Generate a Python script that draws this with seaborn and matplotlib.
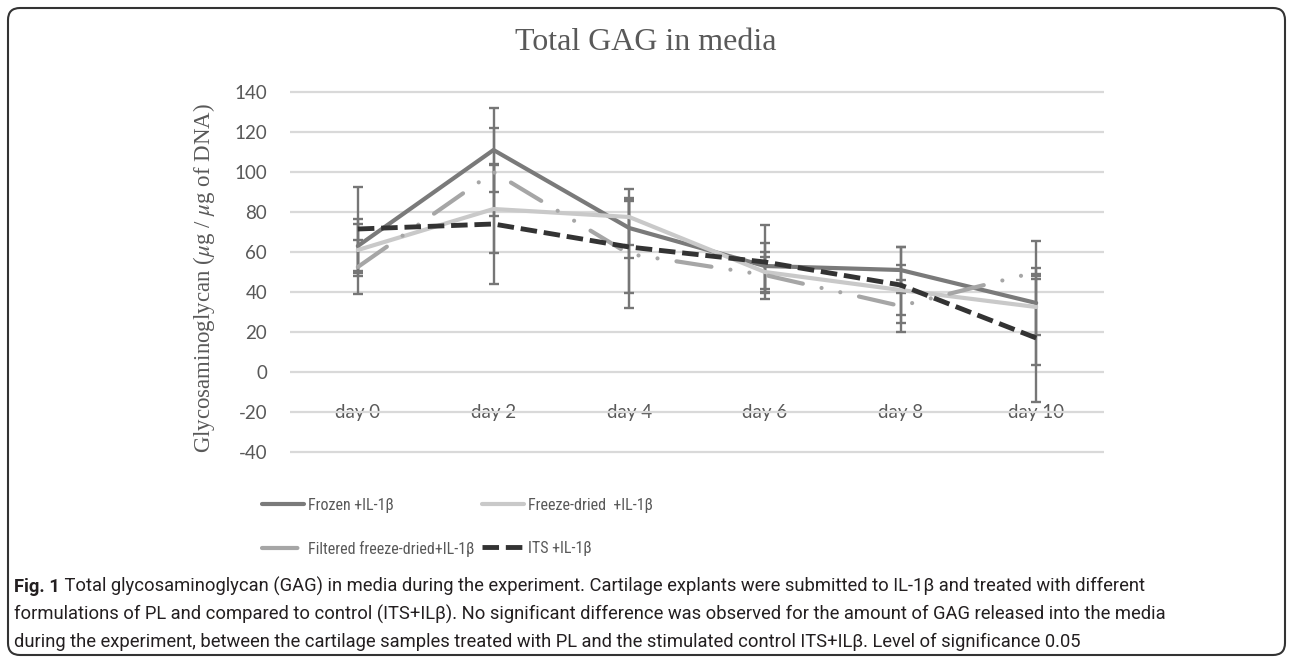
import matplotlib.pyplot as plt
import pandas as pd
import seaborn as sns
from matplotlib.patches import FancyBboxPatch

# values
days = [0, 2, 4, 6, 8, 10]
day_labels = ["day 0", "day 2", "day 4", "day 6", "day 8", "day 10"]
y_ticks = [-40, -20, 0, 20, 40, 60, 80, 100, 120, 140]
groups = ["Frozen +IL-1β", "Freeze-dried  +IL-1β", "Filtered freeze-dried+IL-1β", "ITS +IL-1β"]

frozen = [63, 111, 72, 53, 51, 34.5]
frozen_err = [13.5, 21, 15, 11.5, 11.5, 31]
freeze_dried = [61, 81.5, 77.5, 50, 41, 32.5]
freeze_dried_err = [13, 22, 14, 10, 12.5, 14]
filtered = [52.5, 100, 59, 48.5, 33, 50]
filtered_err = [13.5, 22, 27, 9, 13, 2]
its = [71.5, 74, 62.5, 55, 43.5, 17]
its_err = [21, 30, 23, 18.5, 19, 32]

values = [frozen, freeze_dried, filtered, its]
errors = [frozen_err, freeze_dried_err, filtered_err, its_err]

colors = dict(zip(groups, ["#7a7a7a", "#c9c9c9", "#a6a6a6", "#333333"]))
dash_map = dict(zip(groups, ["", "", (8.5, 4.6, 0.01, 4.6, 0.01, 4.6), (3.4, 1.4)]))
widths = [3.0, 3.0, 3.0, 3.5]

df = pd.DataFrame({
    "day": days * 4,
    "gag": frozen + freeze_dried + filtered + its,
    "group": [g for g in groups for _ in days],
})

sns.set_theme(style="white")
plt.rcParams["font.family"] = ["Lato", "DejaVu Sans"]
plt.rcParams["mathtext.fontset"] = "stix"

W, H = 1292, 658
fig = plt.figure(figsize=(W / 100, H / 100), dpi=100)
ax = fig.add_axes([290 / W, 1 - 454 / H, 814 / W, 364 / H])

sns.lineplot(data=df, x="day", y="gag", hue="group", style="group",
             hue_order=groups, style_order=groups, palette=colors,
             dashes=dash_map, sort=False, legend=False, ax=ax, zorder=3)

lines = list(ax.lines[:4])
for ln, w in zip(lines, widths):
    ln.set_linewidth(w)
    ln.set_dash_capstyle("round")
lines[3].set_dash_capstyle("butt")

for vals, errs in zip(values, errors):
    ax.errorbar(days, vals, yerr=errs, fmt="none", ecolor="#767676",
                elinewidth=1.7, capsize=3.6, capthick=1.7, zorder=2)

ax.set_xlim(-1, 11)
ax.set_ylim(-41, 141)
ax.set_yticks(y_ticks, [str(v) for v in y_ticks])
ax.set_xticks(days, day_labels)
ax.grid(axis="y", color="#d9d9d9", lw=1.6)
ax.grid(axis="x", visible=False)
for s in ax.spines.values():
    s.set_visible(False)
ax.tick_params(axis="y", length=0, pad=16.5, labelsize=13.5, labelcolor="#595959")
ax.tick_params(axis="x", length=0, pad=-36, labelsize=13.5, labelcolor="#595959")
ax.set_xlabel("")
ax.set_ylabel(r"Glycosaminoglycan ($\mu$g / $\mu$g of DNA)", family="Liberation Serif",
              fontsize=16.5, color="#595959")
ax.yaxis.set_label_coords(-0.0897, 0.484)

fig.text(0.5, 1 - 42 / H, "Total GAG in media", family="Liberation Serif",
         fontsize=23, color="#595959", ha="center", va="center")

# two legend columns placed separately
leg_font = dict(family=["Roboto Condensed", "DejaVu Sans"], stretch="condensed", size=11.5)
leg_kw = dict(loc="upper left", frameon=False, prop=leg_font, labelcolor="#595959",
              handlelength=2.65, handletextpad=0.2, labelspacing=1.75,
              borderpad=0, borderaxespad=0)
fig.legend([lines[0], lines[2]], [groups[0], groups[2]],
           bbox_to_anchor=(262 / W, 1 - 498 / H), **leg_kw)
fig.legend([lines[1], lines[3]], [groups[1], groups[3]],
           bbox_to_anchor=(482 / W, 1 - 498 / H), **leg_kw)

# caption
narrow = ["Roboto", "DejaVu Sans"]
cap_color = "#231f20"
t1 = fig.text(14 / W, 1 - 596 / H, "Fig. 1", family=narrow, fontsize=13.2,
              fontweight="bold", color=cap_color, va="bottom")
ax.annotate(" Total glycosaminoglycan (GAG) in media during the experiment. Cartilage explants "
            "were submitted to IL-1β and treated with different",
            xy=(1, 0), xycoords=t1, va="bottom", ha="left", family=narrow,
            fontsize=13.2, color=cap_color, annotation_clip=False)
fig.text(14 / W, 1 - 624 / H,
         "formulations of PL and compared to control (ITS+ILβ). No significant difference was "
         "observed for the amount of GAG released into the media",
         family=narrow, fontsize=13.2, color=cap_color, va="bottom")
fig.text(14 / W, 1 - 651 / H,
         "during the experiment, between the cartilage samples treated with PL and the "
         "stimulated control ITS+ILβ. Level of significance 0.05",
         family=narrow, fontsize=13.2, color=cap_color, va="bottom")

box = FancyBboxPatch((0.08, 0.03), 12.77, 6.47, boxstyle="round,pad=0,rounding_size=0.12",
                     transform=fig.dpi_scale_trans, fill=False, edgecolor="#333333", lw=1.5)
fig.add_artist(box)

fig.savefig("out.png", dpi=100)
